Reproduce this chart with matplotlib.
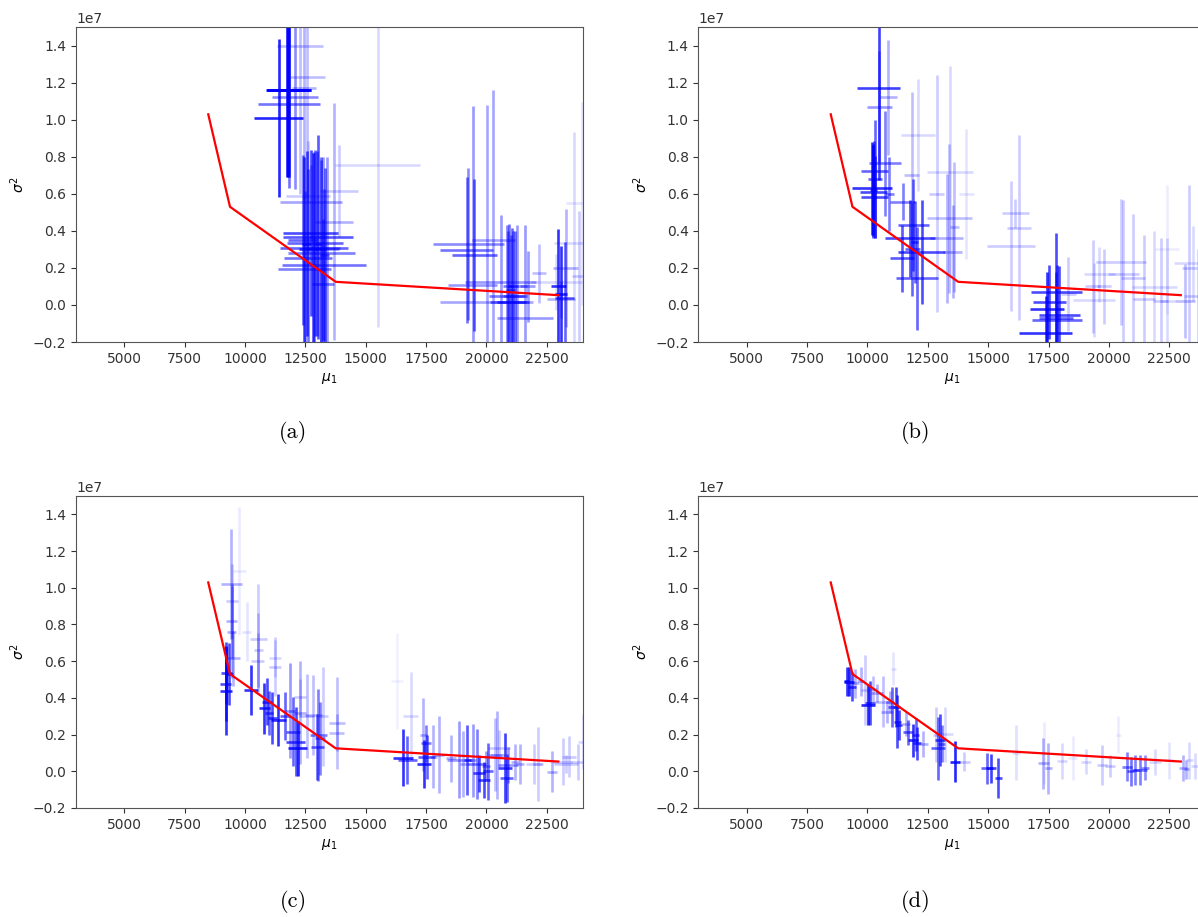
import matplotlib
matplotlib.use("Agg")
import matplotlib.pyplot as plt

# red reference curve (shared by all panels), y in units of 1e7
CURVE_X = [8480, 9380, 13760, 22980]
CURVE_Y = [1.029, 0.530, 0.125, 0.053]

# panel (a): centre x, centre y (1e7), xerr, yerr (1e7), weight
A_X = [11790, 11830, 11390, 11830, 12070, 12280, 12590, 12450, 12720, 13030,
       12900, 12860, 13170, 12600, 13270, 12480, 13230, 13686, 13243, 12720,
       12620, 15497, 12400, 13400, 13900, 19180, 19250, 19430, 19490, 20010,
       20285, 20590, 20840, 20950, 21050, 21180, 21280, 21600, 21710, 22190,
       22980, 23100, 23250, 23280, 23630, 23840, 23950, 23100, 22900,
       12450, 12550, 12800, 13000, 13150, 13300, 11760, 20900, 21000, 21120]
A_Y = [1.16, 1.16, 1.01, 1.084, 1.124, 1.40, 1.23, 1.17, 0.388, 0.366,
       0.334, 0.308, 0.28, 0.256, 0.218, 0.193, 0.114, 0.45, 0.305, 0.557,
       0.587, 0.755, 0.35, 0.30, 0.616, 0.296, 0.328, 0.107, 0.272, 0.017,
       0.35, 0.125, 0.049, 0.017, 0.017, 0.05, 0.10, -0.068, 0.10, 0.17,
       0.10, 0.06, 0.04, 0.20, 0.332, 0.157, 0.548, 0.03, 0.125,
       0.30, 0.33, 0.30, 0.33, 0.30, 0.27, 1.16, 0.10, 0.08, 0.10]
A_XERR = [930, 900, 1035, 1280, 970, 965, 725, 500, 1130, 1440,
          1170, 1410, 1380, 1000, 1750, 1100, 450, 800, 700, 1280,
          900, 1760, 600, 500, 800, 1100, 1460, 1000, 930, 1930,
          900, 1485, 720, 800, 600, 500, 400, 1140, 300, 300,
          300, 250, 400, 500, 820, 300, 650, 580, 1060,
          200, 200, 200, 200, 200, 200, 850, 200, 200, 200]
A_YERR = [0.47, 0.47, 0.425, 0.45, 0.5, 0.8, 0.65, 0.6, 0.45, 0.55,
          0.5, 0.52, 0.5, 0.48, 0.41, 0.42, 0.35, 0.64, 0.495, 0.2,
          0.3, 0.875, 0.46, 0.5, 0.25, 0.394, 0.41, 0.968, 0.41, 1.065,
          0.81, 0.36, 0.38, 0.42, 0.40, 0.35, 0.33, 0.5, 0.19, 0.16,
          0.31, 0.26, 0.30, 0.32, 0.6, 0.35, 0.55, 0.10, 0.15,
          0.5, 0.5, 0.52, 0.5, 0.5, 0.47, 0.47, 0.3, 0.3, 0.3]
A_W = [1.0, 0.8, 0.85, 0.55, 0.45, 0.25, 0.25, 0.3, 0.7, 0.65,
       0.6, 0.6, 0.5, 0.55, 0.55, 0.5, 0.5, 0.3, 0.4, 0.35,
       0.2, 0.15, 0.6, 0.4, 0.2, 0.55, 0.45, 0.4, 0.6, 0.35,
       0.35, 0.4, 0.5, 0.55, 0.6, 0.55, 0.4, 0.4, 0.4, 0.25,
       0.8, 0.8, 0.6, 0.3, 0.15, 0.2, 0.1, 0.3, 0.15,
       0.7, 0.7, 0.7, 0.6, 0.6, 0.6, 0.9, 0.5, 0.5, 0.5]

# panel (b)
B_X = [10467, 10490, 10730, 10868, 10200, 10250, 10300, 10290, 10315, 10910,
       11765, 11903, 12249, 11420, 12041, 11455, 11834, 11860, 12100, 12870,
       13422, 13390, 13284, 13526, 13600, 14100, 15934, 16293, 16130, 17425,
       17812, 17536, 17950, 17840, 17377, 17800, 18323, 19393, 19331, 20491,
       19800, 20600, 21879, 20988, 21458, 22148, 22425, 22397, 23157, 23336,
       23500, 23700, 19600, 10250, 11950]
B_Y = [1.172, 1.07, 0.764, 1.12, 0.629, 0.611, 0.584, 0.724, 0.68, 0.60,
       0.359, 0.431, 0.287, 0.251, 0.143, 0.557, 0.70, 0.30, 0.917, 0.60,
       0.719, 0.467, 0.359, 0.287, 0.42, 0.60, 0.319, 0.418, 0.494, -0.02,
       0.071, 0.017, -0.052, -0.082, -0.149, -0.07, 0.06, 0.026, 0.10, 0.233,
       0.10, 0.165, 0.098, 0.143, 0.03, 0.02, 0.02, 0.30, 0.02, 0.20,
       0.224, 0.05, 0.165, 0.62, 0.34]
B_XERR = [900, 520, 655, 345, 830, 550, 560, 550, 300, 200,
          1036, 656, 966, 500, 863, 518, 300, 300, 690, 300,
          967, 930, 690, 380, 200, 300, 1000, 500, 570, 700,
          1056, 690, 843, 1035, 1084, 700, 300, 863, 300, 1036,
          300, 650, 930, 500, 450, 300, 300, 500, 400, 300,
          800, 600, 650, 150, 150]
B_YERR = [0.5, 0.3, 0.285, 0.31, 0.25, 0.25, 0.22, 0.16, 0.32, 0.2,
          0.21, 0.25, 0.28, 0.18, 0.28, 0.1, 0.45, 0.25, 0.3, 0.64,
          0.57, 0.4, 0.35, 0.25, 0.35, 0.35, 0.35, 0.5, 0.08, 0.2,
          0.32, 0.2, 0.26, 0.3, 0.2, 0.25, 0.2, 0.2, 0.25, 0.34,
          0.2, 0.4, 0.3, 0.35, 0.35, 0.34, 0.34, 0.35, 0.2, 0.45,
          0.2, 0.25, 0.15, 0.25, 0.22]
B_W = [0.75, 0.4, 0.5, 0.3, 0.8, 0.7, 0.7, 0.6, 0.6, 0.5,
       0.7, 0.6, 0.7, 0.65, 0.6, 0.5, 0.25, 0.6, 0.15, 0.2,
       0.15, 0.25, 0.3, 0.3, 0.25, 0.1, 0.2, 0.2, 0.2, 0.8,
       0.7, 0.7, 0.7, 0.6, 0.8, 0.6, 0.2, 0.15, 0.2, 0.2,
       0.2, 0.2, 0.15, 0.2, 0.2, 0.2, 0.15, 0.07, 0.25, 0.2,
       0.15, 0.2, 0.15, 0.7, 0.6]

# panel (c)
C_X = [9213, 9220, 9200, 9352, 9430, 9448, 9460, 9450, 9500, 9766,
       10070, 10249, 10553, 10560, 10520, 10800, 10900, 11000, 11243, 11250,
       11140, 11382, 11658, 11865, 12100, 12180, 12000, 12279, 12556, 12832,
       12280, 13040, 13000, 13100, 13246, 13826, 13800, 16282, 16862, 16559,
       16724, 17429, 17525, 17500, 17387, 17801, 18050, 18534, 18879, 19044,
       19210, 19431, 19597, 19700, 19900, 19984, 20080, 20356, 20453, 20771,
       20840, 20900, 20530, 21185, 21393, 21986, 22124, 22732, 23160, 23422,
       23809, 23989, 23300]
C_Y = [0.44, 0.534, 0.476, 0.53, 1.019, 0.76, 0.928, 0.819, 0.616, 1.09,
       0.76, 0.443, 0.721, 0.661, 0.603, 0.343, 0.38, 0.32, 0.57, 0.616,
       0.29, 0.28, 0.30, 0.33, 0.162, 0.125, 0.216, 0.32, 0.30, 0.307,
       0.403, 0.198, 0.134, 0.18, 0.30, 0.265, 0.211, 0.492, 0.303, 0.074,
       0.062, 0.038, 0.08, 0.153, 0.20, 0.08, 0.09, 0.07, 0.062, 0.04,
       0.06, 0.06, 0.038, -0.011, -0.047, 0.03, 0.0, 0.09, 0.09, 0.016,
       -0.038, 0.034, 0.125, 0.05, 0.04, 0.038, 0.04, -0.002, 0.053, 0.08,
       0.05, 0.162, 0.04]
C_XERR = [250, 230, 220, 150, 435, 200, 240, 240, 310, 280,
          200, 300, 345, 200, 280, 230, 200, 150, 240, 250,
          200, 311, 200, 200, 380, 380, 300, 250, 300, 345,
          240, 345, 280, 200, 200, 330, 310, 250, 325, 415,
          400, 290, 360, 200, 150, 150, 200, 200, 518, 150,
          150, 150, 380, 240, 240, 150, 200, 300, 300, 310,
          280, 415, 450, 150, 150, 345, 200, 207, 380, 280,
          300, 200, 480]
C_YERR = [0.245, 0.17, 0.2, 0.17, 0.30, 0.25, 0.2, 0.2, 0.15, 0.35,
          0.16, 0.135, 0.3, 0.2, 0.15, 0.14, 0.13, 0.12, 0.16, 0.1,
          0.14, 0.14, 0.13, 0.26, 0.19, 0.15, 0.19, 0.28, 0.23, 0.22,
          0.1, 0.25, 0.18, 0.2, 0.27, 0.25, 0.1, 0.26, 0.24, 0.155,
          0.13, 0.13, 0.12, 0.1, 0.2, 0.17, 0.21, 0.13, 0.21, 0.18,
          0.19, 0.2, 0.19, 0.1, 0.1, 0.08, 0.155, 0.2, 0.24, 0.19,
          0.13, 0.1, 0.1, 0.1, 0.11, 0.11, 0.2, 0.11, 0.13, 0.11,
          0.1, 0.15, 0.05]
C_W = [0.8, 0.7, 0.7, 0.7, 0.3, 0.3, 0.2, 0.3, 0.3, 0.08,
       0.1, 0.8, 0.2, 0.2, 0.2, 0.8, 0.7, 0.6, 0.2, 0.15,
       0.7, 0.8, 0.6, 0.4, 0.7, 0.85, 0.6, 0.3, 0.25, 0.25,
       0.2, 0.5, 0.6, 0.5, 0.2, 0.25, 0.25, 0.05, 0.15, 0.8,
       0.6, 0.8, 0.6, 0.5, 0.3, 0.3, 0.3, 0.3, 0.4, 0.3,
       0.65, 0.4, 0.5, 0.7, 0.7, 0.4, 0.6, 0.25, 0.3, 0.75,
       0.6, 0.4, 0.2, 0.3, 0.3, 0.2, 0.2, 0.3, 0.2, 0.2,
       0.2, 0.15, 0.2]

# panel (d)
D_X = [9230, 9150, 9349, 9500, 9722, 9901, 10040, 10109, 10247, 10385,
       10633, 10799, 10937, 11006, 11200, 11241, 11310, 11075, 11600, 11683,
       11900, 12060, 12000, 12300, 12926, 13000, 13078, 12850, 13200, 13630,
       14003, 14942, 15108, 15425, 16157, 17287, 17494, 17300, 18047, 19055,
       19700, 20049, 20395, 20750, 20900, 21100, 21300, 21500, 21914, 23060,
       23200, 23336, 23571, 18500, 22500]
D_Y = [0.488, 0.49, 0.461, 0.48, 0.49, 0.443, 0.361, 0.37, 0.45, 0.425,
       0.38, 0.325, 0.38, 0.35, 0.35, 0.27, 0.252, 0.56, 0.26, 0.212,
       0.17, 0.153, 0.2, 0.15, 0.125, 0.17, 0.15, 0.2, 0.201, 0.053,
       0.053, 0.016, 0.016, -0.038, 0.1, 0.044, 0.016, 0.1, 0.056, 0.053,
       0.034, 0.03, 0.2, 0.025, 0.0, 0.007, 0.007, 0.02, 0.05, 0.016,
       0.01, 0.06, 0.03, 0.07, 0.06]
D_XERR = [207, 100, 173, 150, 150, 150, 290, 200, 150, 240,
          310, 240, 150, 150, 150, 140, 140, 100, 150, 220,
          200, 170, 150, 200, 290, 200, 150, 150, 345, 207,
          240, 255, 200, 140, 150, 220, 150, 100, 207, 207,
          207, 207, 100, 207, 150, 150, 276, 150, 240, 170,
          100, 150, 150, 200, 200]
D_YERR = [0.08, 0.08, 0.08, 0.08, 0.08, 0.19, 0.11, 0.12, 0.07, 0.05,
          0.14, 0.06, 0.06, 0.11, 0.11, 0.145, 0.08, 0.09, 0.07, 0.07,
          0.09, 0.09, 0.09, 0.07, 0.17, 0.14, 0.1, 0.15, 0.15, 0.11,
          0.05, 0.086, 0.08, 0.11, 0.15, 0.14, 0.14, 0.17, 0.1, 0.07,
          0.11, 0.06, 0.1, 0.08, 0.08, 0.08, 0.08, 0.07, 0.07, 0.07,
          0.05, 0.1, 0.07, 0.12, 0.1]
D_W = [0.85, 0.8, 0.7, 0.3, 0.3, 0.2, 0.85, 0.7, 0.25, 0.3,
       0.25, 0.3, 0.3, 0.6, 0.7, 0.7, 0.7, 0.1, 0.3, 0.6,
       0.8, 0.7, 0.6, 0.3, 0.6, 0.7, 0.5, 0.2, 0.15, 0.85,
       0.2, 0.6, 0.75, 0.7, 0.12, 0.3, 0.3, 0.08, 0.15, 0.15,
       0.2, 0.2, 0.07, 0.5, 0.55, 0.5, 0.5, 0.45, 0.15, 0.3,
       0.3, 0.15, 0.15, 0.08, 0.1]

PANELS = [
    ("(a)", A_X, A_Y, A_XERR, A_YERR, A_W),
    ("(b)", B_X, B_Y, B_XERR, B_YERR, B_W),
    ("(c)", C_X, C_Y, C_XERR, C_YERR, C_W),
    ("(d)", D_X, D_Y, D_XERR, D_YERR, D_W),
]

# axes boxes in figure fractions (right column runs past the page edge)
BOXES = [
    [0.0634, 0.6270, 0.4232, 0.3435],
    [0.5830, 0.6270, 0.4232, 0.3435],
    [0.0634, 0.1189, 0.4232, 0.3402],
    [0.5830, 0.1189, 0.4232, 0.3402],
]
CAPTIONS = [(0.2446, 0.528), (0.764, 0.528), (0.2446, 0.0164), (0.764, 0.0164)]

SCALE = 1e7


def draw_panel(ax, xs, ys, xerrs, yerrs, ws):
    for x, y, xe, ye, w in zip(xs, ys, xerrs, yerrs, ws):
        ax.errorbar(x, y * SCALE, xerr=xe, yerr=ye * SCALE, fmt="none",
                    ecolor=(0, 0, 1, w), elinewidth=1.9, capsize=0)
    ax.plot(CURVE_X, [v * SCALE for v in CURVE_Y], color="red", lw=1.6)
    ax.set_xlim(3000, 24000)
    ax.set_ylim(-0.2e7, 1.5e7)
    ax.set_xticks(range(5000, 22501, 2500))
    ax.set_xlabel(r"$\mu_1$", fontsize=10)
    ax.set_ylabel(r"$\sigma^2$", fontsize=10)
    ax.tick_params(labelsize=10, colors="#333333")
    for s in ax.spines.values():
        s.set_color("#555555")


def main():
    fig = plt.figure(figsize=(11.98, 9.17), dpi=100)
    for (cap, xs, ys, xe, ye, ws), box, (cx, cy) in zip(PANELS, BOXES, CAPTIONS):
        ax = fig.add_axes(box)
        draw_panel(ax, xs, ys, xe, ye, ws)
        fig.text(cx, cy, cap, ha="center", va="center", fontsize=16,
                 family="cmr10")
    fig.savefig("out.png", dpi=100)


if __name__ == "__main__":
    main()
